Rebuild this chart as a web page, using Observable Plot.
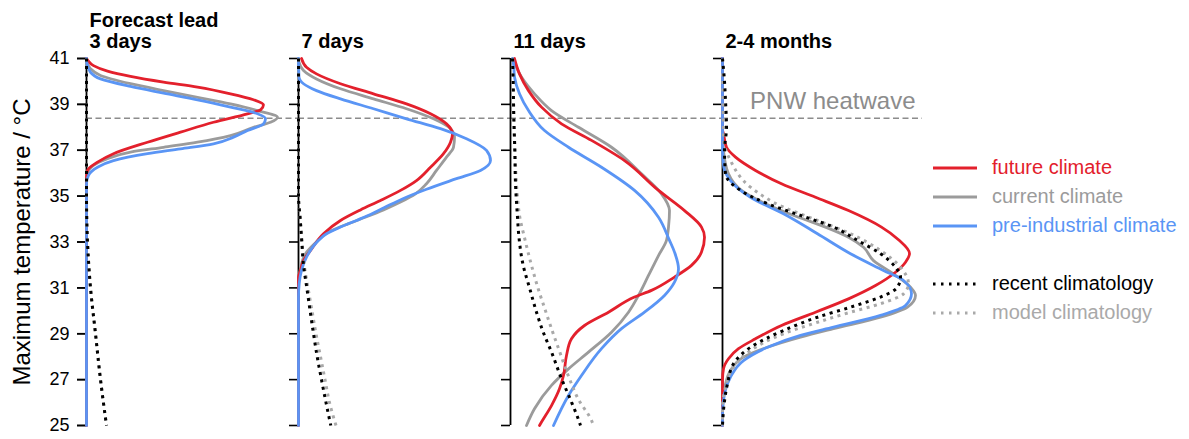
<!DOCTYPE html>
<html>
<head>
<meta charset="utf-8">
<script src="https://cdn.jsdelivr.net/npm/d3@7"></script>
<script src="https://cdn.jsdelivr.net/npm/@observablehq/plot@0.6"></script>
<style>
  body { margin: 0; background: #fff; font-family: "Liberation Sans", Arial, Helvetica, sans-serif; }
  #wrap { position: relative; width: 1189px; height: 439px; }
  #chart { position: absolute; left: 0; top: 0; }
  #legend { position: absolute; left: 933px; top: 153px; }
  .row { height: 29px; display: flex; align-items: center; font-size: 20px; white-space: nowrap; }
  .row svg { margin-right: 15px; }
</style>
</head>
<body>
<div id="wrap"><div id="chart"></div><div id="legend"></div></div>
<script>
// ---- categories / labels ----
const panels = ["3 days", "7 days", "11 days", "2-4 months"];
const panelTitles = ["Forecast lead\n3 days", "7 days", "11 days", "2-4 months"];
const seriesNames = ["future climate", "current climate", "pre-industrial climate", "recent climatology", "model climatology"];
const seriesColors = ["#e3202c", "#9b9b9b", "#5a95f5", "#000000", "#a9a9a9"];
const yTicks = [25, 27, 29, 31, 33, 35, 37, 39, 41];
const heatwave = 38.4;
const heatwaveLabel = "PNW heatwave";
const yLabel = "Maximum temperature / °C";

// ---- density curves: [temperature °C, density (arbitrary units)] ----
// lead 3 days
const d3_future = [[41,0],[40.94,0.01],[40.69,0.07],[40.45,0.21],[40.22,0.44],[39.97,0.77],[39.75,1.11],[39.46,1.44],[39.2,1.67],[38.98,1.77],[38.76,1.74],[38.59,1.61],[38.22,1.27],[37.79,0.94],[37.35,0.61],[36.85,0.27],[36.48,0.11],[36.12,0.01],[35.8,0],[25,0]];
const d3_current = [[41,0],[40.84,0.005],[40.55,0.04],[40.26,0.14],[39.9,0.44],[39.6,0.77],[39.31,1.11],[39.02,1.44],[38.73,1.71],[38.44,1.91],[38.22,1.84],[38.0,1.67],[37.64,1.44],[37.35,1.11],[37.13,0.77],[36.92,0.44],[36.63,0.21],[36.34,0.07],[35.97,0.01],[35.6,0],[25,0]];
const d3_preind = [[41,0],[40.77,0.005],[40.4,0.04],[40.11,0.14],[39.78,0.44],[39.49,0.77],[39.2,1.11],[38.88,1.44],[38.59,1.71],[38.37,1.79],[38.15,1.77],[37.86,1.61],[37.57,1.47],[37.28,1.27],[37.06,0.94],[36.85,0.61],[36.55,0.27],[36.26,0.11],[35.9,0.02],[35.54,0],[25,0]];
const d3_recent = [[41,0],[35,0],[33,0.01],[31,0.04],[29,0.09],[27,0.14],[25,0.2]];
const d3_model = [[41,0],[35,0],[33,0.01],[31,0.04],[29,0.09],[27,0.14],[25,0.2]];
// lead 7 days
const d7_future = [[41,0.03],[40.62,0.08],[40.33,0.18],[39.9,0.42],[39.46,0.75],[39.02,1.08],[38.59,1.32],[38.15,1.48],[37.72,1.54],[37.35,1.52],[36.85,1.45],[36.26,1.32],[35.68,1.18],[35.25,1.02],[34.81,0.82],[34.4,0.62],[33.94,0.42],[33.36,0.25],[32.63,0.12],[32.19,0.05],[31.76,0.02],[31.47,0],[25,0]];
const d7_current = [[41,0],[40.84,0.005],[40.48,0.05],[40.11,0.18],[39.68,0.42],[39.24,0.75],[38.81,1.08],[38.37,1.35],[37.94,1.52],[37.57,1.56],[37.13,1.55],[36.7,1.48],[36.12,1.38],[35.54,1.28],[35.1,1.17],[34.74,1.02],[34.4,0.85],[34.1,0.68],[33.8,0.5],[33.43,0.3],[32.92,0.16],[32.49,0.07],[32.05,0.03],[31.61,0.01],[31.2,0],[25,0]];
const d7_preind = [[41,0],[40.19,0.005],[39.9,0.05],[39.6,0.18],[39.24,0.42],[38.81,0.75],[38.37,1.08],[37.94,1.42],[37.5,1.68],[36.99,1.88],[36.55,1.92],[36.12,1.82],[35.76,1.58],[35.3,1.28],[34.9,1.05],[34.5,0.86],[34.2,0.72],[33.94,0.58],[33.65,0.42],[33.36,0.28],[33.07,0.2],[32.34,0.08],[31.76,0.03],[31.18,0.007],[30.6,0],[25,0]];
const d7_recent = [[41,0],[35,0],[34,0.017],[33,0.033],[32,0.05],[31,0.083],[30,0.116],[29,0.15],[28,0.187],[27,0.23],[26,0.275],[25,0.323]];
const d7_model = [[41,0],[35,0],[34,0.017],[33,0.035],[32,0.057],[31,0.095],[30,0.135],[29,0.175],[28,0.22],[27,0.265],[26,0.31],[25,0.375]];
// lead 11 days
const d11_future = [[41,0.04],[40.33,0.09],[39.6,0.18],[38.88,0.31],[38.15,0.51],[37.43,0.81],[36.55,1.14],[35.25,1.48],[34.37,1.74],[33.65,1.91],[33.21,1.94],[32.56,1.91],[31.98,1.81],[31.47,1.64],[30.89,1.41],[30.6,1.24],[29.94,0.98],[29.36,0.74],[28.78,0.61],[28.05,0.56],[27.18,0.53],[26.6,0.49],[25.87,0.41],[25.15,0.31],[25,0.29]];
const d11_current = [[41,0.02],[40.91,0.03],[40.19,0.11],[39.46,0.24],[38.73,0.41],[38.0,0.68],[37.13,1.01],[35.97,1.31],[35.1,1.51],[34.37,1.59],[33.65,1.58],[33.07,1.56],[32.41,1.48],[31.54,1.38],[30.67,1.28],[29.94,1.18],[29.07,1.01],[28.2,0.78],[27.47,0.58],[26.75,0.41],[25.73,0.24],[25,0.16]];
const d11_preind = [[41,0.02],[40.77,0.03],[40.19,0.04],[39.46,0.09],[38.73,0.18],[37.86,0.34],[37.13,0.58],[36.26,0.91],[35.25,1.24],[34.08,1.48],[33.07,1.59],[32.56,1.64],[31.83,1.68],[31.25,1.64],[30.67,1.54],[29.94,1.34],[29.22,1.11],[28.35,0.91],[27.18,0.71],[26.31,0.58],[25,0.43]];
const d11_recent = [[41,0.02],[39.9,0.027],[38.44,0.033],[36.99,0.043],[35.54,0.05],[34.08,0.07],[33.28,0.083],[31.98,0.127],[30.96,0.193],[29.94,0.26],[29.07,0.327],[28.2,0.41],[27.04,0.51],[26.02,0.61],[25.22,0.683],[25,0.7]];
const d11_model = [[41,0.02],[38.44,0.033],[36.99,0.045],[35.5,0.06],[34.95,0.07],[34.08,0.093],[33.28,0.135],[31.98,0.21],[30.96,0.277],[30.09,0.343],[29.22,0.41],[28.2,0.493],[27.18,0.577],[26.16,0.677],[25.22,0.81],[25,0.83]];
// lead 2-4 months
const m24_future = [[41,0],[37.9,0],[37.72,0.01],[37.13,0.04],[36.7,0.13],[36.12,0.33],[35.54,0.59],[34.95,0.93],[34.37,1.26],[33.65,1.59],[33.1,1.76],[32.5,1.87],[32.12,1.83],[31.68,1.73],[31.1,1.53],[30.52,1.26],[29.94,0.93],[29.36,0.59],[28.78,0.33],[28.35,0.16],[27.91,0.06],[27.47,0.01],[27.0,0],[25,0]];
const m24_current = [[41,0],[38,0],[37.5,0.005],[36.99,0.01],[35.97,0.06],[35.25,0.19],[34.67,0.43],[34.08,0.76],[33.65,1.03],[33.21,1.26],[32.77,1.41],[32.19,1.51],[31.61,1.71],[31.03,1.88],[30.67,1.93],[30.16,1.85],[29.72,1.58],[29.22,1.11],[28.85,0.78],[28.41,0.45],[27.98,0.21],[27.4,0.08],[26.82,0.03],[26.09,0.007],[25.5,0],[25,0]];
const m24_preind = [[41,0],[37,0],[36.26,0.013],[35.68,0.08],[34.95,0.28],[34.23,0.61],[33.36,0.95],[32.49,1.28],[31.76,1.61],[31.32,1.81],[30.74,1.89],[30.23,1.83],[29.8,1.58],[29.29,1.11],[28.93,0.78],[28.41,0.45],[27.83,0.21],[27.11,0.08],[26.38,0.02],[25.5,0],[25,0]];
const m24_recent = [[41,0],[40,0.02],[39.17,0.03],[38.0,0.04],[36.99,0.02],[35.97,0.03],[35.25,0.18],[34.67,0.45],[34.16,0.78],[33.65,1.11],[33.07,1.35],[32.49,1.58],[31.9,1.73],[31.47,1.78],[31.03,1.75],[30.6,1.58],[30.16,1.28],[29.72,0.95],[29.14,0.61],[28.41,0.28],[27.69,0.11],[26.82,0.05],[25.8,0.013],[25,0]];
const m24_model = [[41,0],[38,0.01],[37.43,0.013],[36.55,0.08],[35.39,0.28],[34.52,0.61],[33.94,0.95],[33.36,1.28],[32.63,1.58],[31.9,1.78],[31.18,1.86],[30.74,1.81],[30.31,1.58],[29.94,1.28],[29.5,0.95],[29.0,0.61],[28.27,0.28],[27.55,0.11],[26.67,0.03],[25.8,0],[25,0]];

const curves = [
  ["3 days", d3_future, d3_current, d3_preind, d3_recent, d3_model],
  ["7 days", d7_future, d7_current, d7_preind, d7_recent, d7_model],
  ["11 days", d11_future, d11_current, d11_preind, d11_recent, d11_model],
  ["2-4 months", m24_future, m24_current, m24_preind, m24_recent, m24_model]
];
const rows = curves.flatMap(([panel, ...sets]) =>
  sets.flatMap((pts, k) => pts.map(([temp, dens]) => ({panel, series: seriesNames[k], temp, dens}))));

const solidOrder = ["current climate", "future climate", "pre-industrial climate"];
const dottedOrder = ["model climatology", "recent climatology"];
const solidRows = solidOrder.flatMap(s => rows.filter(r => r.series === s));
const dottedRows = dottedOrder.flatMap(s => rows.filter(r => r.series === s));

const ruleRows = panels.map((p, i) => ({panel: p, y: heatwave, x2: i === panels.length - 1 ? 2.0 : 2.12}));

const step = 212, band = 200;
const chart = Plot.plot({
  width: 930,
  height: 439,
  marginLeft: 86,
  marginRight: 8,
  marginTop: 58,
  marginBottom: 14,
  style: {fontFamily: '"Liberation Sans", Arial, Helvetica, sans-serif', fontSize: "18px", color: "#000", background: "transparent", overflow: "visible"},
  fx: {domain: panels, paddingInner: (step - band) / step, paddingOuter: 0, round: false, axis: null},
  x: {domain: [0, 2], axis: null},
  y: {domain: [25, 41]},
  color: {domain: seriesNames, range: seriesColors},
  marks: [
    Plot.ruleY(ruleRows, {fx: "panel", y: "y", x1: 0, x2: "x2", stroke: "#8c8c8c", strokeWidth: 1.5, strokeDasharray: "6,3.5"}),
    Plot.ruleX([0], {stroke: "#000", strokeWidth: 1.8}),
    Plot.axisY({ticks: yTicks, tickSize: 9, tickPadding: 8, fontSize: 18, label: null, strokeWidth: 1.6}),
    Plot.axisY({ticks: yTicks, tickSize: 9, tickFormat: () => "", label: null, strokeWidth: 1.6, facetAnchor: null}),
    Plot.line(solidRows, {fx: "panel", x: "dens", y: "temp", z: "series", stroke: "series", strokeWidth: 2.8, curve: "monotone-y"}),
    Plot.line(dottedRows, {fx: "panel", x: "dens", y: "temp", z: "series", stroke: "series", strokeWidth: 3, strokeDasharray: "3,4.5", strokeLinecap: "butt", curve: "monotone-y"}),
    Plot.text(panels, {fx: d => d, text: (d, i) => panelTitles[i], frameAnchor: "top-left", textAnchor: "start", lineAnchor: "bottom", lineHeight: 1.05, dx: 3, dy: -11, fontSize: 20, fontWeight: "bold", fill: "#000"}),
    Plot.text([heatwaveLabel], {fx: () => panels[3], y: () => heatwave, frameAnchor: "right", textAnchor: "end", lineAnchor: "bottom", dx: -7, dy: -9, fontSize: 24, fill: "#8c8c8c"}),
    Plot.text([yLabel], {fx: () => panels[0], frameAnchor: "left", textAnchor: "middle", lineAnchor: "middle", rotate: -90, dx: -64, fontSize: 24, fill: "#000"})
  ]
});
document.getElementById("chart").appendChild(chart);

// ---- legend ----
const legendItems = [
  {name: seriesNames[0], color: seriesColors[0], dotted: false},
  {name: seriesNames[1], color: seriesColors[1], dotted: false},
  {name: seriesNames[2], color: seriesColors[2], dotted: false},
  null,
  {name: seriesNames[3], color: seriesColors[3], dotted: true},
  {name: seriesNames[4], color: seriesColors[4], dotted: true}
];
const legend = d3.select("#legend");
for (const it of legendItems) {
  const row = legend.append("div").attr("class", "row");
  if (!it) continue;
  const s = row.append("svg").attr("width", 44).attr("height", 6);
  s.append("line").attr("x1", 0).attr("x2", 44).attr("y1", 3).attr("y2", 3)
    .attr("stroke", it.color).attr("stroke-width", 3)
    .attr("stroke-dasharray", it.dotted ? "2.5,5.5" : null);
  row.append("span").style("color", it.color).text(it.name);
}
</script>
</body>
</html>
